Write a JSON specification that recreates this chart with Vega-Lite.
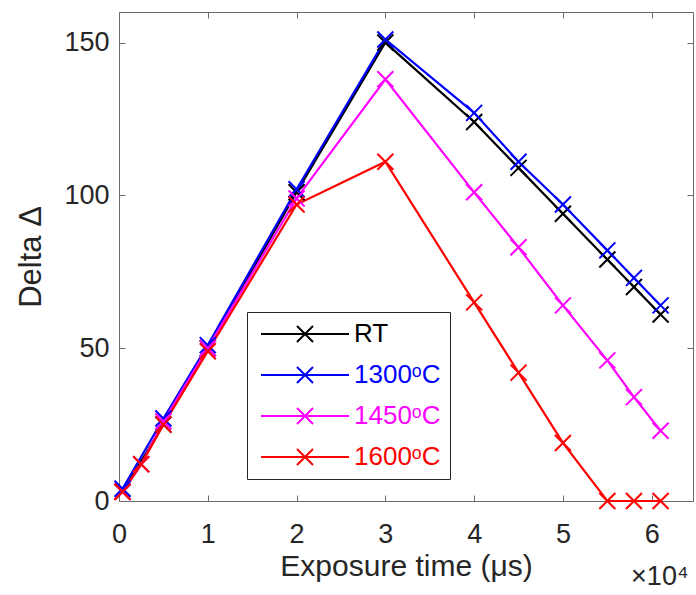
{
  "$schema": "https://vega.github.io/schema/vega-lite/v6.json",
  "width": 574,
  "height": 489,
  "autosize": "none",
  "padding": {"left": 119, "top": 12, "right": 3, "bottom": 94},
  "background": "white",
  "title": {"text": "×10⁴", "orient": "bottom", "anchor": "end", "fontSize": 27, "fontWeight": "normal", "color": "#262626", "font": "Liberation Sans", "offset": 0, "dx": -5, "dy": -17},
  "config": {
    "font": "Liberation Sans",
    "view": {"stroke": "#6b6b6b", "strokeWidth": 1},
    "axis": {"grid": false, "domain": false, "tickColor": "#6b6b6b", "tickSize": -6, "tickWidth": 1, "labelFlush": false, "labelFont": "Liberation Sans", "labelFontSize": 27, "labelColor": "#262626", "titleFont": "Liberation Sans", "titleFontSize": 31, "titleFontWeight": "normal", "titleColor": "#262626"}
  },
  "data": {"values": [
    {"s": "RT", "t": 400, "d": 3},
    {"s": "RT", "t": 5000, "d": 25},
    {"s": "RT", "t": 10000, "d": 50},
    {"s": "RT", "t": 20000, "d": 101},
    {"s": "RT", "t": 30000, "d": 150},
    {"s": "RT", "t": 40000, "d": 124},
    {"s": "RT", "t": 45000, "d": 109},
    {"s": "RT", "t": 50000, "d": 94},
    {"s": "RT", "t": 55000, "d": 79},
    {"s": "RT", "t": 58000, "d": 70},
    {"s": "RT", "t": 61000, "d": 61},
    {"s": "1300ᵒC", "t": 400, "d": 4},
    {"s": "1300ᵒC", "t": 5000, "d": 27},
    {"s": "1300ᵒC", "t": 10000, "d": 51},
    {"s": "1300ᵒC", "t": 20000, "d": 102},
    {"s": "1300ᵒC", "t": 30000, "d": 151},
    {"s": "1300ᵒC", "t": 40000, "d": 127},
    {"s": "1300ᵒC", "t": 45000, "d": 111},
    {"s": "1300ᵒC", "t": 50000, "d": 97},
    {"s": "1300ᵒC", "t": 55000, "d": 82},
    {"s": "1300ᵒC", "t": 58000, "d": 73},
    {"s": "1300ᵒC", "t": 61000, "d": 64},
    {"s": "1450ᵒC", "t": 400, "d": 3},
    {"s": "1450ᵒC", "t": 2500, "d": 12},
    {"s": "1450ᵒC", "t": 5000, "d": 26},
    {"s": "1450ᵒC", "t": 10000, "d": 50},
    {"s": "1450ᵒC", "t": 20000, "d": 99},
    {"s": "1450ᵒC", "t": 30000, "d": 138},
    {"s": "1450ᵒC", "t": 40000, "d": 101},
    {"s": "1450ᵒC", "t": 45000, "d": 83},
    {"s": "1450ᵒC", "t": 50000, "d": 64},
    {"s": "1450ᵒC", "t": 55000, "d": 46},
    {"s": "1450ᵒC", "t": 58000, "d": 34},
    {"s": "1450ᵒC", "t": 61000, "d": 23},
    {"s": "1600ᵒC", "t": 400, "d": 3},
    {"s": "1600ᵒC", "t": 2500, "d": 12},
    {"s": "1600ᵒC", "t": 5000, "d": 25},
    {"s": "1600ᵒC", "t": 10000, "d": 49},
    {"s": "1600ᵒC", "t": 20000, "d": 97},
    {"s": "1600ᵒC", "t": 30000, "d": 111},
    {"s": "1600ᵒC", "t": 40000, "d": 65},
    {"s": "1600ᵒC", "t": 45000, "d": 42},
    {"s": "1600ᵒC", "t": 50000, "d": 19},
    {"s": "1600ᵒC", "t": 55000, "d": 0},
    {"s": "1600ᵒC", "t": 58000, "d": 0},
    {"s": "1600ᵒC", "t": 61000, "d": 0}
  ]},
  "layer": [
    {
      "mark": {"type": "line", "strokeWidth": 2.2, "clip": false},
      "encoding": {
        "x": {"field": "t", "type": "quantitative", "scale": {"domain": [0, 64650], "nice": false, "zero": false},
              "axis": {"orient": "bottom", "values": [0, 10000, 20000, 30000, 40000, 50000, 60000], "labelExpr": "datum.value / 10000", "title": "Exposure time (μs)", "labelPadding": 47, "labelBaseline": "alphabetic", "titleY": 74, "titleFontSize": 30, "titleBaseline": "alphabetic"}},
        "y": {"field": "d", "type": "quantitative", "scale": {"domain": [0, 160], "nice": false},
              "axis": {"orient": "left", "values": [0, 50, 100, 150], "title": "Delta Δ", "labelPadding": 16, "titleX": -79, "titleBaseline": "alphabetic"}},
        "color": {"field": "s", "type": "nominal", "sort": null,
                  "scale": {"domain": ["RT", "1300ᵒC", "1450ᵒC", "1600ᵒC"], "range": ["#000000", "#0000ff", "#ff00ff", "#ff0000"]},
                  "legend": {"orient": "none", "legendX": 128, "legendY": 300, "title": null,
                             "symbolType": "M-5.5,0H5.5M-1,-1L1,1M-1,1L1,-1", "symbolSize": 256, "symbolStrokeWidth": 2,
                             "symbolFillColor": "transparent", "symbolOffset": 36, "labelOffset": 36,
                             "labelFontSize": 26, "labelFont": "Liberation Sans", "labelLimit": 300,
                             "padding": 9, "rowPadding": 15, "strokeColor": "#262626", "fillColor": "white",
                             "encode": {"labels": {"update": {"fill": {"scale": "color", "field": "value"}}}}}}
      }
    },
    {
      "mark": {"type": "point", "shape": "M-1,-1L1,1M-1,1L1,-1", "filled": false, "size": 256, "strokeWidth": 2, "opacity": 1, "clip": false},
      "encoding": {
        "x": {"field": "t", "type": "quantitative",
              "axis": {"orient": "top", "values": [0, 10000, 20000, 30000, 40000, 50000, 60000], "labels": false, "title": null}},
        "y": {"field": "d", "type": "quantitative",
              "axis": {"orient": "right", "values": [0, 50, 100, 150], "labels": false, "title": null}},
        "color": {"field": "s", "type": "nominal", "sort": null}
      }
    }
  ],
  "resolve": {"axis": {"x": "independent", "y": "independent"}}
}
